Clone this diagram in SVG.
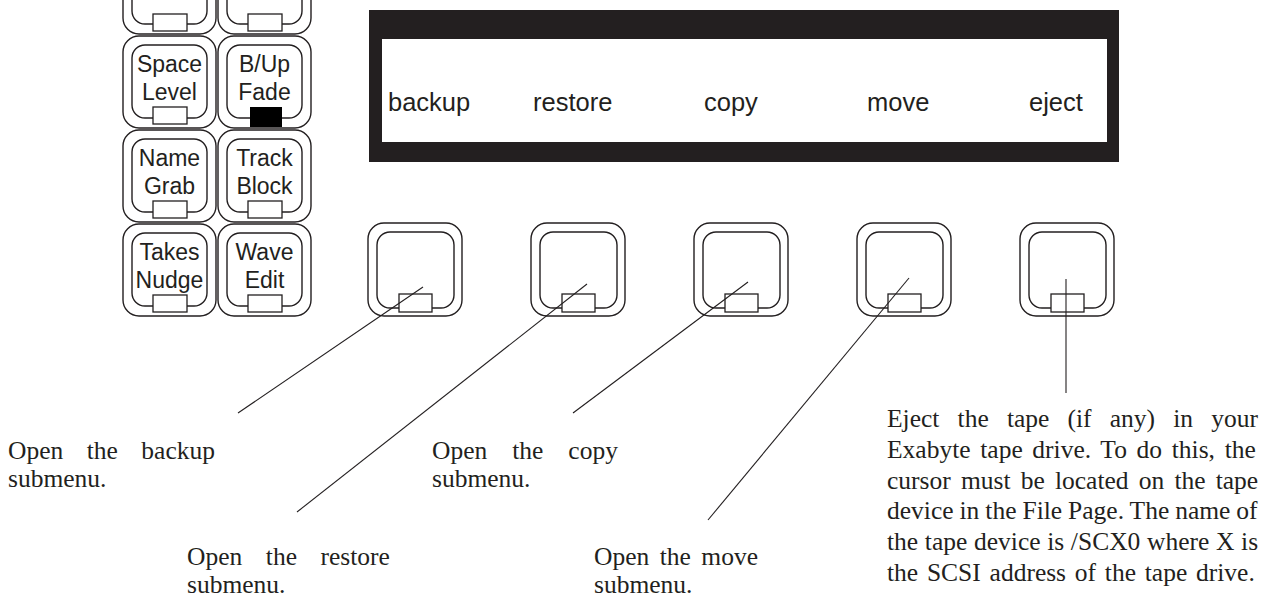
<svg xmlns="http://www.w3.org/2000/svg" width="1273" height="598" viewBox="0 0 1273 598">
<style>
.ko{fill:#fff;stroke:#231f20;stroke-width:1.4}
.ki{fill:none;stroke:#231f20;stroke-width:1.4}
.led{fill:#fff;stroke:#231f20;stroke-width:1.3}
.kt{font-family:"Liberation Sans",Arial,sans-serif;font-size:23px;fill:#231f20;text-anchor:middle}
.dt{font-family:"Liberation Sans",Arial,sans-serif;font-size:25.5px;fill:#231f20}
.pt{font-family:"Liberation Serif","Times New Roman",serif;font-size:25.5px;fill:#231f20}
.ln{stroke:#231f20;stroke-width:1.1;fill:none}
</style>
<rect width="1273" height="598" fill="#fff"/>
<g id="keys-left">
  <g id="key-top-left"><rect class="ko" x="123" y="-58" width="93" height="92" rx="16"/><rect class="ki" x="132" y="-49" width="75" height="73" rx="13"/><rect class="led" x="153" y="14" width="34" height="17"/></g>
  <g id="key-top-right"><rect class="ko" x="218" y="-58" width="93" height="92" rx="16"/><rect class="ki" x="227" y="-49" width="75" height="73" rx="13"/><rect class="led" x="248" y="14" width="34" height="17"/></g>
  <g id="key-space"><rect class="ko" x="123" y="36" width="93" height="92" rx="16"/><rect class="ki" x="132" y="45" width="75" height="73" rx="13"/><rect class="led" x="153" y="107" width="34" height="17"/><text class="kt" x="169.5" y="72">Space</text><text class="kt" x="169.5" y="100">Level</text></g>
  <g id="key-bup"><rect class="ko" x="218" y="36" width="93" height="92" rx="16"/><rect class="ki" x="227" y="45" width="75" height="73" rx="13"/><rect x="250" y="107" width="32" height="20" fill="#000"/><text class="kt" x="264.5" y="72">B/Up</text><text class="kt" x="264.5" y="100">Fade</text></g>
  <g id="key-name"><rect class="ko" x="123" y="130" width="93" height="92" rx="16"/><rect class="ki" x="132" y="139" width="75" height="73" rx="13"/><rect class="led" x="153" y="201" width="34" height="17"/><text class="kt" x="169.5" y="166">Name</text><text class="kt" x="169.5" y="194">Grab</text></g>
  <g id="key-track"><rect class="ko" x="218" y="130" width="93" height="92" rx="16"/><rect class="ki" x="227" y="139" width="75" height="73" rx="13"/><rect class="led" x="248" y="201" width="34" height="17"/><text class="kt" x="264.5" y="166">Track</text><text class="kt" x="264.5" y="194">Block</text></g>
  <g id="key-takes"><rect class="ko" x="123" y="224" width="93" height="92" rx="16"/><rect class="ki" x="132" y="233" width="75" height="73" rx="13"/><rect class="led" x="153" y="295" width="34" height="17"/><text class="kt" x="169.5" y="260">Takes</text><text class="kt" x="169.5" y="288">Nudge</text></g>
  <g id="key-wave"><rect class="ko" x="218" y="224" width="93" height="92" rx="16"/><rect class="ki" x="227" y="233" width="75" height="73" rx="13"/><rect class="led" x="248" y="295" width="34" height="17"/><text class="kt" x="264.5" y="260">Wave</text><text class="kt" x="264.5" y="288">Edit</text></g>
</g>
<g id="display">
  <rect x="369" y="10" width="750" height="152" fill="#231f20"/>
  <rect x="382" y="39" width="725" height="103" fill="#fff"/>
  <text class="dt" x="388" y="111">backup</text>
  <text class="dt" x="533" y="111">restore</text>
  <text class="dt" x="704" y="111">copy</text>
  <text class="dt" x="867" y="111">move</text>
  <text class="dt" x="1029" y="111">eject</text>
</g>
<g id="softkeys">
  <g id="soft-backup"><rect class="ko" x="368" y="223" width="94" height="93" rx="16"/><rect class="ki" x="377" y="232" width="77" height="76" rx="13"/><rect class="led" x="399" y="294" width="33" height="18"/></g>
  <g id="soft-restore"><rect class="ko" x="531" y="223" width="94" height="93" rx="16"/><rect class="ki" x="540" y="232" width="77" height="76" rx="13"/><rect class="led" x="562" y="294" width="33" height="18"/></g>
  <g id="soft-copy"><rect class="ko" x="694" y="223" width="94" height="93" rx="16"/><rect class="ki" x="703" y="232" width="77" height="76" rx="13"/><rect class="led" x="725" y="294" width="33" height="18"/></g>
  <g id="soft-move"><rect class="ko" x="857" y="223" width="94" height="93" rx="16"/><rect class="ki" x="866" y="232" width="77" height="76" rx="13"/><rect class="led" x="888" y="294" width="33" height="18"/></g>
  <g id="soft-eject"><rect class="ko" x="1020" y="223" width="94" height="93" rx="16"/><rect class="ki" x="1029" y="232" width="77" height="76" rx="13"/><rect class="led" x="1051" y="294" width="33" height="18"/></g>
</g>
<g id="connectors">
  <line class="ln" x1="423" y1="287" x2="238" y2="413"/>
  <line class="ln" x1="587" y1="284" x2="297" y2="512"/>
  <line class="ln" x1="748" y1="282" x2="573" y2="413"/>
  <line class="ln" x1="909" y1="278" x2="708" y2="520"/>
  <line class="ln" x1="1066" y1="279" x2="1066" y2="393"/>
</g>
<g id="label-backup">
  <text class="pt" x="8" y="459" word-spacing="17.1">Open the backup</text>
  <text class="pt" x="8" y="487">submenu.</text>
</g>
<g id="label-copy">
  <text class="pt" x="432" y="459" word-spacing="18.6">Open the copy</text>
  <text class="pt" x="432" y="487">submenu.</text>
</g>
<g id="label-restore">
  <text class="pt" x="187" y="565" word-spacing="17.2">Open the restore</text>
  <text class="pt" x="187" y="593">submenu.</text>
</g>
<g id="label-move">
  <text class="pt" x="594" y="565" word-spacing="4.1">Open the move</text>
  <text class="pt" x="594" y="593">submenu.</text>
</g>
<g id="label-eject">
  <text class="pt" x="887" y="427" word-spacing="11.8">Eject the tape (if any) in your</text>
  <text class="pt" x="887" y="458" word-spacing="3.3">Exabyte tape drive. To do this, the</text>
  <text class="pt" x="887" y="489" word-spacing="3.8">cursor must be located on the tape</text>
  <text class="pt" x="887" y="519" word-spacing="-0.4">device in the File Page. The name of</text>
  <text class="pt" x="887" y="550" word-spacing="0.3">the tape device is /SCX0 where X is</text>
  <text class="pt" x="887" y="581" word-spacing="2.4">the SCSI address of the tape drive.</text>
</g>
</svg>
